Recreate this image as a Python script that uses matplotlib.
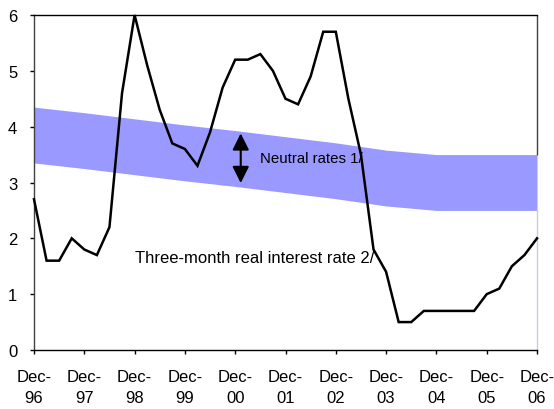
import matplotlib
matplotlib.use("Agg")
import matplotlib.pyplot as plt

plt.rcParams['font.family'] = ['Liberation Sans', 'DejaVu Sans']

# Year-end labels for the horizontal axis (Dec-96 .. Dec-06)
years = ["96", "97", "98", "99", "00", "01", "02", "03", "04", "05", "06"]
tick_labels = [f"Dec-\n{y}" for y in years]

# Three-month real interest rate, quarterly from Dec-96 to Dec-06 (percent)
real_rate = [2.7, 1.6, 1.6, 2.0, 1.8, 1.7, 2.2, 4.6, 6.0, 5.1,
             4.3, 3.7, 3.6, 3.3, 3.9, 4.7, 5.2, 5.2, 5.3, 5.0,
             4.5, 4.4, 4.9, 5.7, 5.7, 4.5, 3.5, 1.8, 1.4, 0.5,
             0.5, 0.7, 0.7, 0.7, 0.7, 0.7, 1.0, 1.1, 1.5, 1.7,
             2.0]

# Neutral-rate range, one value per December (percent)
neutral_upper = [4.35, 4.25, 4.14, 4.03, 3.93, 3.82, 3.71, 3.58, 3.50, 3.50, 3.50]
neutral_lower = [3.35, 3.25, 3.14, 3.03, 2.93, 2.82, 2.71, 2.58, 2.50, 2.50, 2.50]

quarters = list(range(len(real_rate)))
year_pos = quarters[::4]

fig = plt.figure(figsize=(5.54, 4.10), dpi=100)
ax = fig.add_axes([34 / 554, 59 / 410, 503 / 554, 335 / 410])

ax.fill_between(year_pos, neutral_lower, neutral_upper,
                color="#9999FF", linewidth=0, zorder=1)
ax.plot(quarters, real_rate, color="black", linewidth=1.8,
        solid_joinstyle="miter", clip_on=False, zorder=3)

ax.set_xlim(year_pos[0], year_pos[-1])
ax.set_ylim(0, 6)
ax.set_xticks(year_pos)
ax.set_xticklabels(tick_labels, linespacing=1.45)
ax.set_yticks(range(0, 7))

ax.tick_params(axis="both", direction="out", length=3, width=1,
               labelsize=12, colors="black")
ax.tick_params(axis="y", pad=9)
ax.tick_params(axis="x", pad=11)

for side in ("top", "bottom"):
    ax.spines[side].set_color("black")
    ax.spines[side].set_linewidth(1)
ax.spines["left"].set_color("#404040")
ax.spines["left"].set_linewidth(1)
ax.spines["right"].set_visible(False)

# right border: dark above the band, pale below it
ax.vlines(year_pos[-1], neutral_upper[-1], 6, color="#404040",
          linewidth=1, clip_on=False, zorder=2)
ax.vlines(year_pos[-1], 0, neutral_lower[-1], color="#C8C8EE",
          linewidth=1, clip_on=False, zorder=2)

# double-headed arrow marking the neutral range
ax.annotate("", xy=(16.44, 2.99), xytext=(16.44, 3.88),
            arrowprops=dict(arrowstyle="<|-|>,head_length=1.0,head_width=0.5",
                            mutation_scale=10, color="black", lw=1.5,
                            shrinkA=0, shrinkB=0), zorder=4)
ax.text(17.97, 3.43, "Neutral rates 1/", fontsize=10.8,
        va="center", ha="left", zorder=4)
ax.text(8.03, 1.65, "Three-month real interest rate 2/", fontsize=12,
        va="center", ha="left", zorder=4)

fig.savefig("out.png", dpi=100)
